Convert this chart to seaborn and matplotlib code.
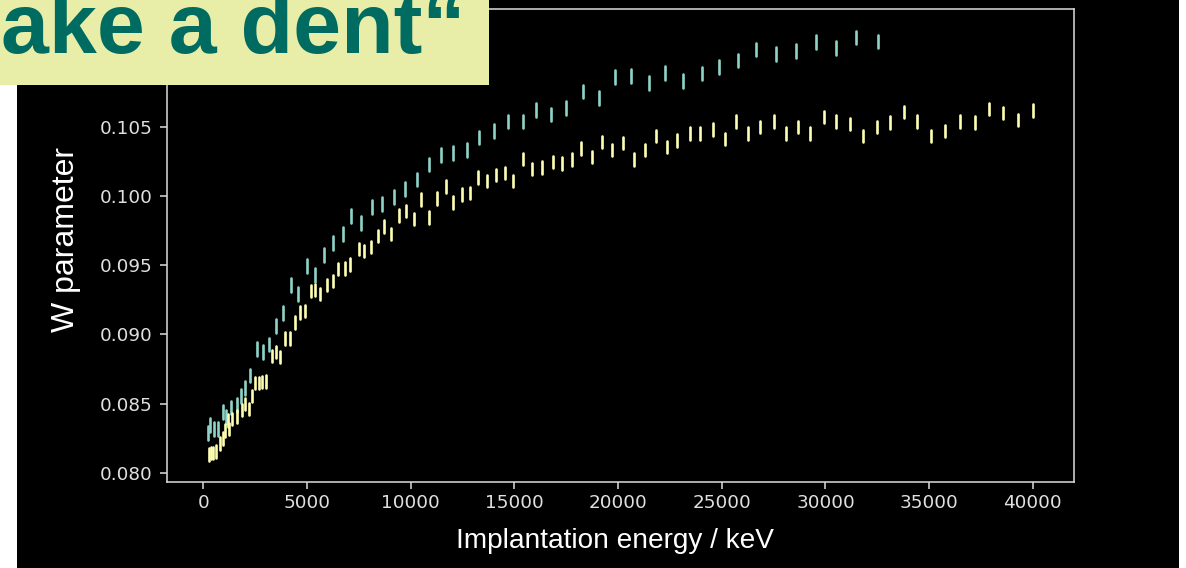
import matplotlib
matplotlib.use("Agg")
import matplotlib.pyplot as plt
from matplotlib.patches import Rectangle
import numpy as np
import pandas as pd
import seaborn as sns

# W parameter versus implantation energy for two samples
energy_a = [230, 330, 520, 710, 950, 1110, 1350, 1610, 1800, 2000,
            2250, 2590, 2850, 3170, 3510, 3830, 4210, 4540, 5000, 5390,
            5790, 6240, 6710, 7110, 7620, 8140, 8600, 9180, 9710, 10290,
            10890, 11470, 12060, 12720, 13300, 14030, 14680, 15390, 16050, 16780,
            17500, 18290, 19070, 19850, 20640, 21490, 22280, 23130, 24040, 24880,
            25800, 26650, 27630, 28560, 29530, 30510, 31490, 32540]
w_a = [0.08286, 0.08343, 0.08317, 0.08317, 0.08437, 0.08401, 0.08471, 0.08488, 0.08552, 0.08614,
       0.08703, 0.08893, 0.08875, 0.08928, 0.09062, 0.09154, 0.09360, 0.09292, 0.09498, 0.09430,
       0.09578, 0.09661, 0.09730, 0.09857, 0.09807, 0.09925, 0.09944, 0.09995, 0.10053, 0.10121,
       0.10230, 0.10297, 0.10312, 0.10338, 0.10425, 0.10473, 0.10542, 0.10542, 0.10627, 0.10592,
       0.10640, 0.10759, 0.10710, 0.10864, 0.10870, 0.10821, 0.10893, 0.10836, 0.10889, 0.10935,
       0.10983, 0.11063, 0.11029, 0.11049, 0.11116, 0.11076, 0.11150, 0.11121]
err_a = 0.0005

energy_b = [270, 350, 480, 610, 810, 930, 1060, 1190, 1250, 1380,
            1610, 1870, 1990, 2190, 2320, 2510, 2700, 2830, 3040, 3300,
            3490, 3680, 3920, 4150, 4410, 4670, 4920, 5190, 5390, 5640,
            5980, 6240, 6500, 6840, 7090, 7490, 7750, 8070, 8410, 8730,
            9060, 9440, 9780, 10170, 10500, 10890, 11280, 11680, 12060, 12450,
            12850, 13240, 13700, 14090, 14560, 14940, 15390, 15860, 16330, 16840,
            17310, 17760, 18220, 18740, 19200, 19720, 20250, 20760, 21290, 21810,
            22340, 22860, 23450, 23970, 24560, 25140, 25670, 26260, 26860, 27500,
            28100, 28680, 29270, 29930, 30510, 31170, 31830, 32470, 33130, 33790,
            34440, 35090, 35750, 36480, 37190, 37910, 38550, 39280, 40000]
w_b = [0.08133, 0.08141, 0.08143, 0.08154, 0.08210, 0.08248, 0.08304, 0.08377, 0.08314, 0.08389,
       0.08406, 0.08455, 0.08498, 0.08462, 0.08554, 0.08650, 0.08647, 0.08657, 0.08659, 0.08843,
       0.08872, 0.08836, 0.08971, 0.08971, 0.09086, 0.09158, 0.09169, 0.09314, 0.09321, 0.09292,
       0.09360, 0.09389, 0.09473, 0.09478, 0.09506, 0.09620, 0.09605, 0.09634, 0.09712, 0.09780,
       0.09727, 0.09860, 0.09893, 0.09835, 0.09978, 0.09846, 0.09983, 0.10072, 0.09954, 0.10012,
       0.10022, 0.10136, 0.10111, 0.10154, 0.10169, 0.10111, 0.10268, 0.10198, 0.10209, 0.10248,
       0.10238, 0.10267, 0.10346, 0.10286, 0.10395, 0.10337, 0.10386, 0.10267, 0.10337, 0.10436,
       0.10357, 0.10404, 0.10454, 0.10454, 0.10483, 0.10415, 0.10542, 0.10454, 0.10502, 0.10542,
       0.10454, 0.10502, 0.10454, 0.10572, 0.10542, 0.10523, 0.10436, 0.10502, 0.10533, 0.10611,
       0.10542, 0.10436, 0.10473, 0.10542, 0.10533, 0.10630, 0.10601, 0.10552, 0.10621]
err_b = 0.00045

series_names = ["A", "B"]
series_colors = ["#8dd3c7", "#ffffb3"]

x_ticks = [0, 5000, 10000, 15000, 20000, 25000, 30000, 35000, 40000]
y_ticks = [0.080, 0.085, 0.090, 0.095, 0.100, 0.105]

# each measurement contributes its lower and upper bound; the error bar spans them
rows = []
for name, xs, ys, e in [("A", energy_a, w_a, err_a), ("B", energy_b, w_b, err_b)]:
    for x, y in zip(xs, ys):
        rows.append((name, x, y - e))
        rows.append((name, x, y + e))
df = pd.DataFrame(rows, columns=["series", "energy", "w"])

sns.set_theme(style="ticks")
plt.style.use("dark_background")
plt.rcParams["font.family"] = ["DejaVu Sans"]

fig = plt.figure(figsize=(11.86, 5.68), dpi=100, facecolor="black")
ax = fig.add_axes([167 / 1186, 1 - 482 / 568, 907 / 1186, 473 / 568])
ax.set_facecolor("black")

sns.lineplot(
    data=df, x="energy", y="w", hue="series",
    palette=dict(zip(series_names, series_colors)),
    estimator="mean", errorbar=lambda v: (v.min(), v.max()),
    err_style="bars", linestyle="", legend=False,
    err_kws={"elinewidth": 1.9, "capsize": 0},
    ax=ax,
)

ax.set_xticks(x_ticks)
ax.set_yticks(y_ticks)
ax.set_yticklabels([f"{t:.3f}" for t in y_ticks])
for s in ax.spines.values():
    s.set_color("#dddddd")
    s.set_linewidth(1.1)
ax.tick_params(colors="#dddddd", labelsize=13.2, length=5, width=1.1)
ax.tick_params(axis="y", pad=5.5)
for lab in ax.get_xticklabels() + ax.get_yticklabels():
    lab.set_color("#e0e0e0")

ax.set_xlabel("Implantation energy / keV", fontsize=20.2, color="white",
              family="Liberation Sans", va="center")
ax.set_ylabel("W parameter", fontsize=23, color="white",
              family="Liberation Sans", va="center")
ax.xaxis.set_label_coords(0.494, -0.125)
ax.yaxis.set_label_coords(-0.111, 0.512)

# slide frame around the plot
fig.patches.append(Rectangle((0, 0), 17 / 1186, 1 - 85 / 568, transform=fig.transFigure,
                             facecolor="white", edgecolor="none", zorder=5))
fig.patches.append(Rectangle((1179 / 1186, 0), 7 / 1186, 1, transform=fig.transFigure,
                             facecolor="white", edgecolor="none", zorder=5))
# heading banner
fig.patches.append(Rectangle((0, 1 - 85 / 568), 489 / 1186, 85 / 568, transform=fig.transFigure,
                             facecolor="#e8eda8", edgecolor="none", zorder=10))
fig.text(1 / 1186, 1 - 53 / 568, "ake a dent\u201c", fontsize=62, fontweight="bold",
         family="Liberation Sans", color="#006b60", ha="left", va="baseline", zorder=11)

fig.savefig("out.png", dpi=100, facecolor="black")
